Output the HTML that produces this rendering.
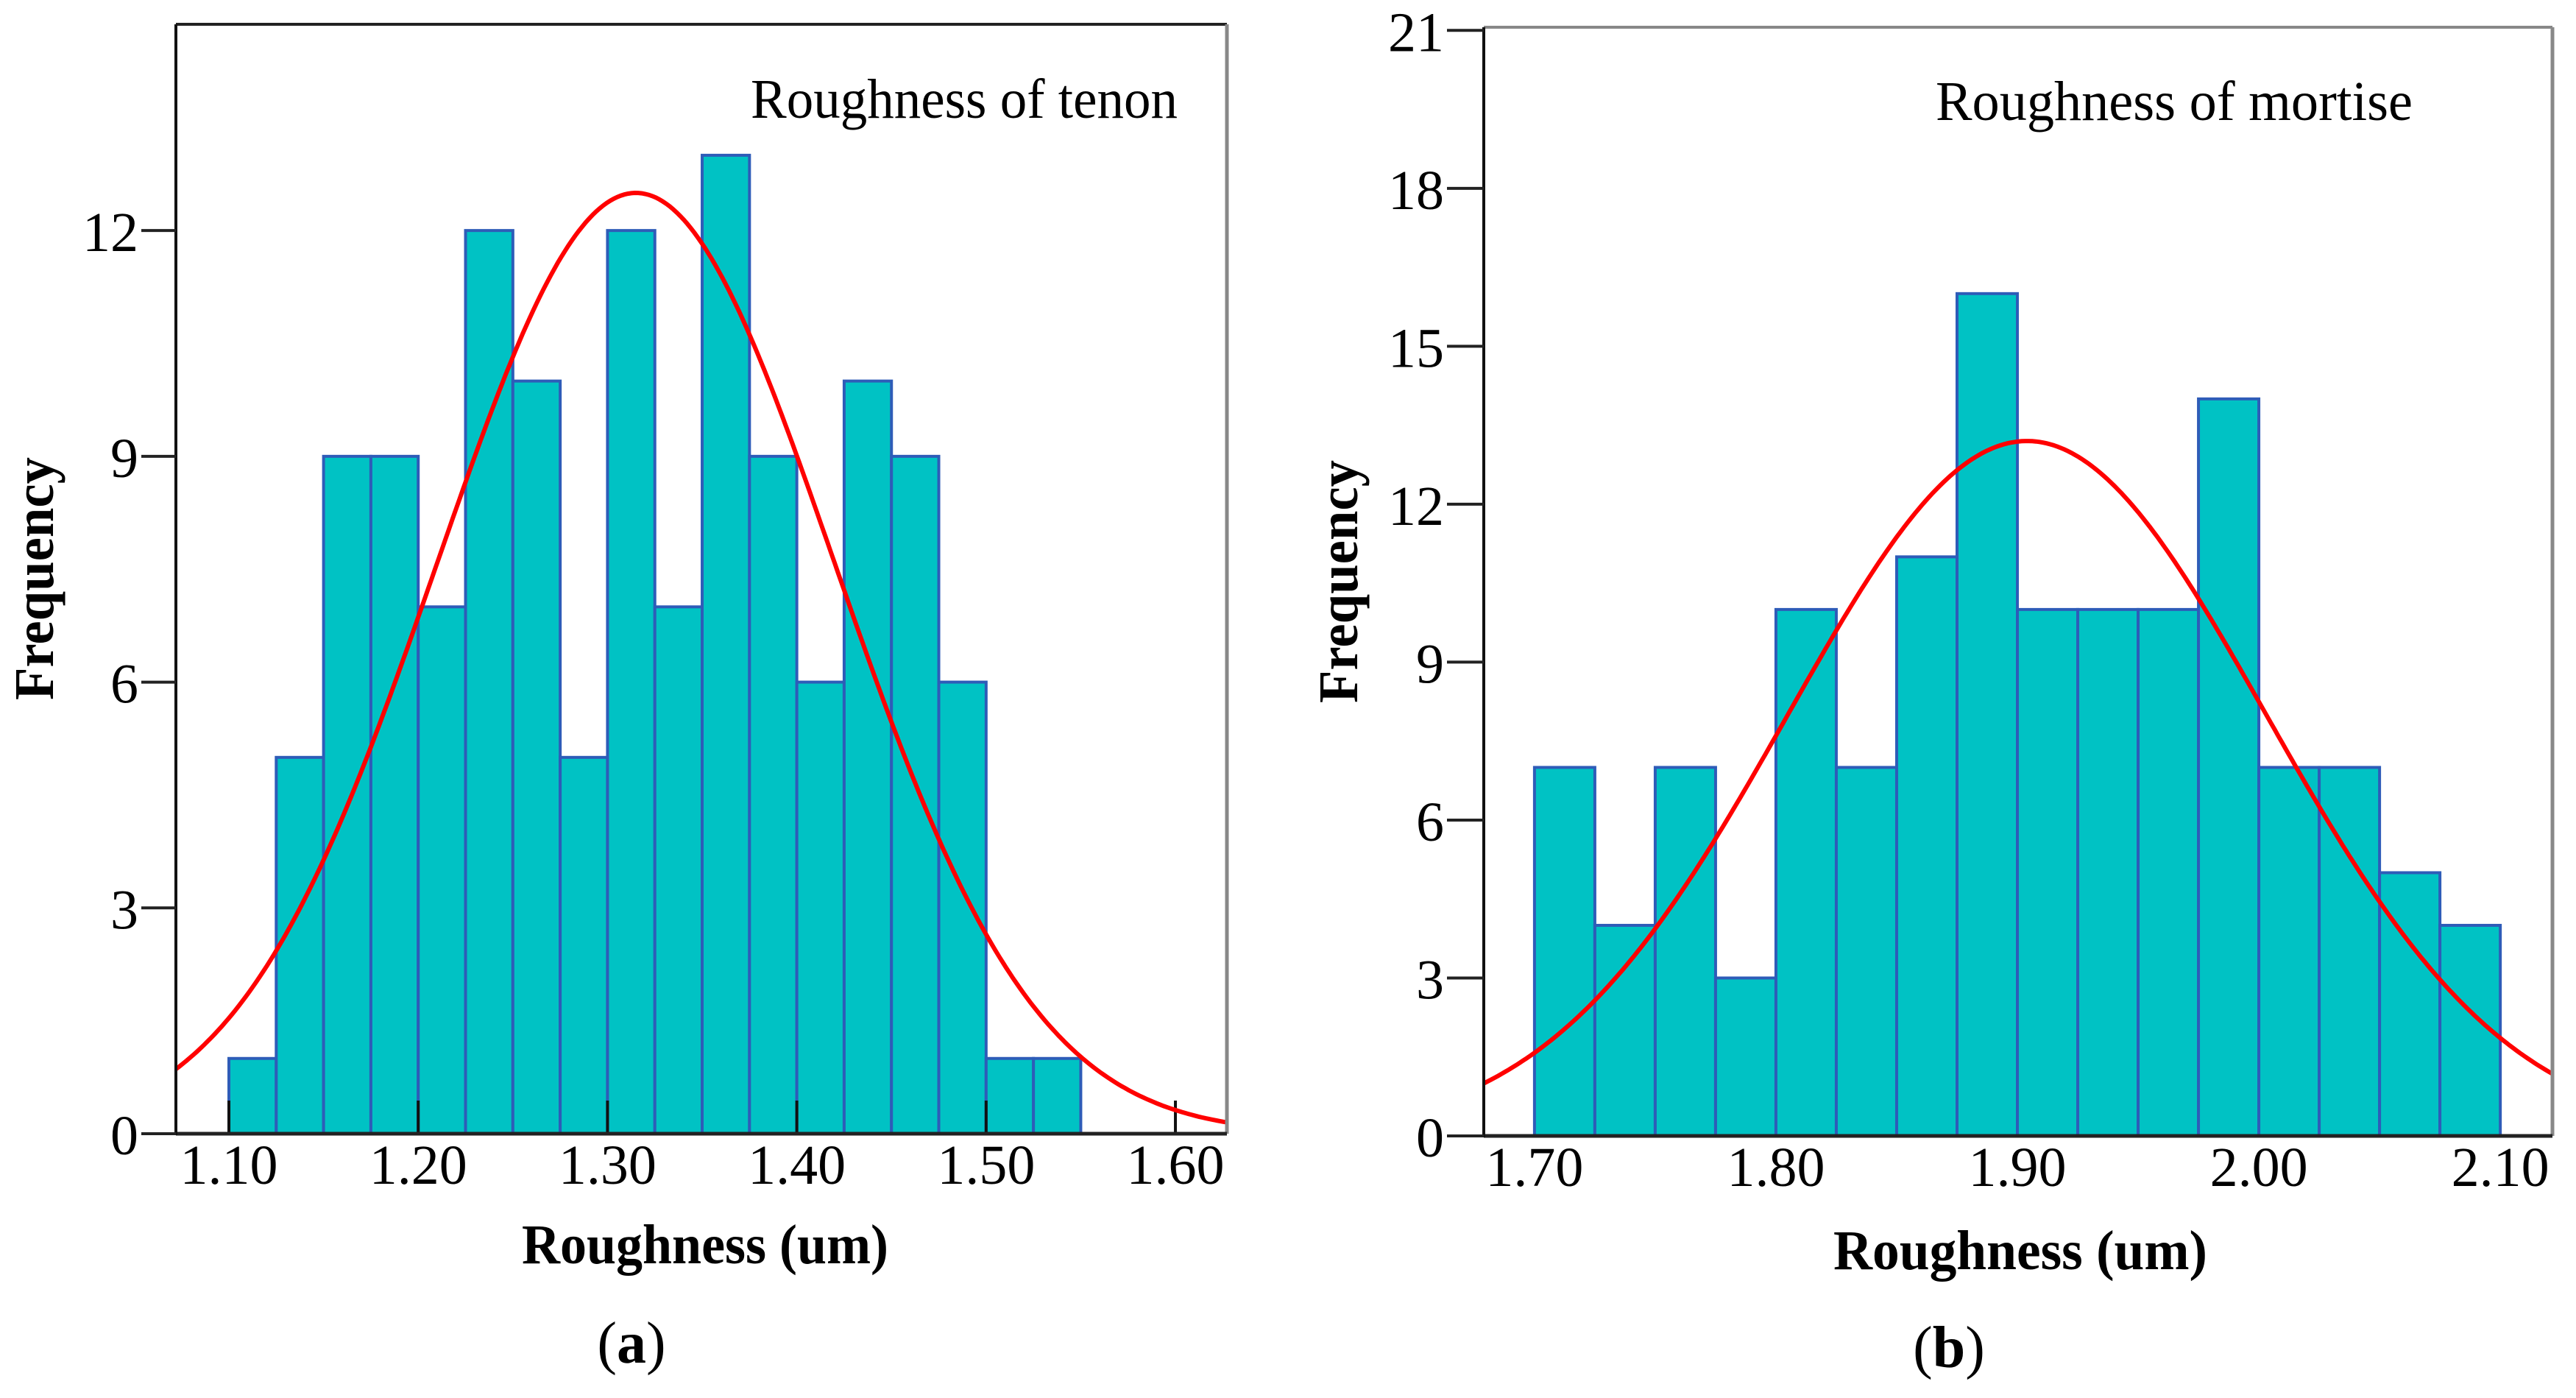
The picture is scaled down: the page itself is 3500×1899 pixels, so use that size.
<!DOCTYPE html>
<html><head><meta charset="utf-8"><style>
html,body{margin:0;padding:0;background:#fff;}
svg{display:block;}
text{font-family:"Liberation Serif","DejaVu Serif",serif;fill:#000;}
</style></head><body>
<svg id="chart" width="3500" height="1899" viewBox="0 0 3500 1899" xmlns="http://www.w3.org/2000/svg">
<g id="pa"></g>
<g id="pb"></g>
</svg>
<script>
// Panel A data (tenon)
const tenonBinStart = 1.10;
const tenonBinWidth = 0.025;
const tenonCounts = [1,5,9,9,7,12,10,5,12,7,13,9,6,10,9,6,1,1];
const tenonXTicks = [1.10,1.20,1.30,1.40,1.50,1.60];
const tenonXTickLabels = ["1.10","1.20","1.30","1.40","1.50","1.60"];
const tenonYTicks = [0,3,6,9,12];
const tenonMean = 1.315, tenonSd = 0.105, tenonPeak = 12.5;
// Panel B data (mortise)
const mortiseBinStart = 1.70;
const mortiseBinWidth = 0.025;
const mortiseCounts = [7,4,7,3,10,7,11,16,10,10,10,14,7,7,5,4];
const mortiseXTicks = [1.70,1.80,1.90,2.00,2.10];
const mortiseXTickLabels = ["1.70","1.80","1.90","2.00","2.10"];
const mortiseYTicks = [0,3,6,9,12,15,18,21];
const mortiseMean = 1.904, mortiseSd = 0.099, mortisePeak = 13.2;

const NS="http://www.w3.org/2000/svg";
function mk(parent,tag,attrs,txt){const e=document.createElementNS(NS,tag);for(const k in attrs)e.setAttribute(k,attrs[k]);if(txt!==undefined)e.textContent=txt;parent.appendChild(e);return e;}

function drawPanel(g,cfg){
  const sx=v=>cfg.x0+(v-cfg.xmin)/(cfg.xmax-cfg.xmin)*(cfg.x1-cfg.x0);
  const sy=v=>cfg.yb-(v-0)/(cfg.ymax)*(cfg.yb-cfg.yt);
  cfg.counts.forEach((c,i)=>{
    const a=cfg.binStart+i*cfg.binWidth,b=a+cfg.binWidth;
    const r=mk(g,'rect',{x:sx(a),y:sy(c),width:sx(b)-sx(a),height:sy(0)-sy(c),fill:'#00c2c4',stroke:'#2e5cb8','stroke-width':4});
    
    
  });
  if(cfg.innerTicks){cfg.xTicks.forEach(t=>{const l=mk(g,'line',{x1:sx(t),x2:sx(t),y1:cfg.yb,y2:cfg.yb-45,stroke:'#111','stroke-width':4});
    
    });}
  let d='';const N=300;
  for(let i=0;i<=N;i++){const v=cfg.xmin+(cfg.xmax-cfg.xmin)*i/N;const y=cfg.peak*Math.exp(-Math.pow(v-cfg.mean,2)/(2*cfg.sd*cfg.sd));d+=(i?'L':'M')+sx(v).toFixed(1)+','+sy(y).toFixed(1);}
  const p=mk(g,'path',{d:d,fill:'none',stroke:'#ff0000','stroke-width':6});
  
  
  mk(g,'line',{x1:cfg.x0,x2:cfg.x1,y1:cfg.yt,y2:cfg.yt,stroke:cfg.frameTop,'stroke-width':4});
  mk(g,'line',{x1:cfg.x1,x2:cfg.x1,y1:cfg.yt,y2:cfg.yb,stroke:'#888','stroke-width':5});
  const ax=mk(g,'line',{x1:cfg.x0,x2:cfg.x1,y1:cfg.yb,y2:cfg.yb,stroke:'#222','stroke-width':5});
  
  
  const ay=mk(g,'line',{x1:cfg.x0,x2:cfg.x0,y1:cfg.yt,y2:cfg.yb+2,stroke:'#111','stroke-width':4});
  
  
  cfg.yTicks.forEach(t=>{
    mk(g,'line',{x1:cfg.x0-cfg.tickLen,x2:cfg.x0,y1:sy(t),y2:sy(t),stroke:'#222','stroke-width':4});
    const tx=mk(g,'text',{x:cfg.x0-cfg.tickLen-4,y:sy(t)+28,'text-anchor':'end','font-size':76},String(t));
    
    
  });
  cfg.xTicks.forEach((t,i)=>{
    const tx=mk(g,'text',{x:sx(t),y:cfg.yb+68,'text-anchor':'middle','font-size':76},cfg.xLabels[i]);
    
    
  });
  const ti=mk(g,'text',{x:cfg.titleX,y:cfg.titleY,'font-size':76,textLength:cfg.titleW,lengthAdjust:'spacingAndGlyphs'},cfg.title);
  
  
  const xt=mk(g,'text',{x:cfg.xtX,y:cfg.xtY,'text-anchor':'middle','font-size':76,'font-weight':'bold',textLength:cfg.xtW,lengthAdjust:'spacingAndGlyphs'},'Roughness (um)');
  
  
  const yt=mk(g,'text',{x:0,y:0,'text-anchor':'middle','font-size':76,'font-weight':'bold',textLength:330,lengthAdjust:'spacingAndGlyphs',transform:'translate('+cfg.ytX+','+cfg.ytY+') rotate(-90)'},'Frequency');
  
  
  const lb=mk(g,'text',{x:cfg.lbX,y:cfg.lbY,'text-anchor':'middle','font-size':80},'');
  mk(lb,'tspan',{},'(');mk(lb,'tspan',{'font-weight':'bold'},cfg.letter);mk(lb,'tspan',{},')');
  
  
}
drawPanel(document.getElementById('pa'),{x0:239,x1:1667,yt:33,yb:1540,xmin:1.072,xmax:1.6272,ymax:14.74,
  counts:tenonCounts,binStart:tenonBinStart,binWidth:tenonBinWidth,xTicks:tenonXTicks,xLabels:tenonXTickLabels,yTicks:tenonYTicks,
  mean:tenonMean,sd:tenonSd,peak:tenonPeak,innerTicks:true,tickLen:47,frameTop:'#222',
  title:'Roughness of tenon',titleX:1020,titleY:160,titleW:580,xtX:958,xtY:1716,xtW:498,ytX:72,ytY:786,lbX:858,lbY:1851,letter:'a'});
drawPanel(document.getElementById('pb'),{x0:2016,x1:3468,yt:37,yb:1543,xmin:1.679,xmax:2.1216,ymax:21.06,
  counts:mortiseCounts,binStart:mortiseBinStart,binWidth:mortiseBinWidth,xTicks:mortiseXTicks,xLabels:mortiseXTickLabels,yTicks:mortiseYTicks,
  mean:mortiseMean,sd:mortiseSd,peak:mortisePeak,innerTicks:false,tickLen:50,frameTop:'#888',
  title:'Roughness of mortise',titleX:2630,titleY:163,titleW:648,xtX:2745,xtY:1724,xtW:508,ytX:1844,ytY:790,lbX:2648,lbY:1857,letter:'b'});
</script>
</body></html>
